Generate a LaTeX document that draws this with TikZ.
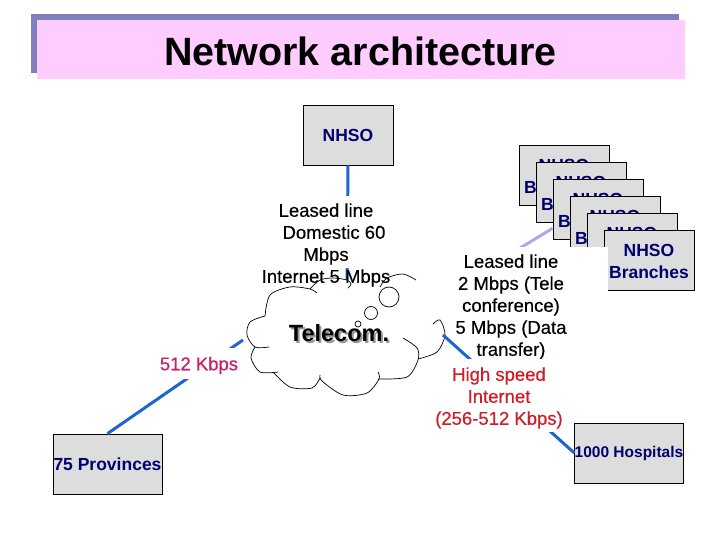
\documentclass[tikz,border=0pt]{standalone}
\usepackage{fontspec}
\setmainfont{Liberation Sans}
\newfontfamily\notefont[FakeBold=0.4]{Liberation Sans}

\definecolor{titlepink}{RGB}{255,204,255}
\definecolor{titleshade}{RGB}{128,128,192}
\definecolor{boxgray}{RGB}{221,221,221}
\definecolor{boxtext}{RGB}{0,0,110}
\definecolor{linkblue}{RGB}{30,100,210}
\definecolor{linkpale}{RGB}{170,170,235}
\definecolor{ratepink}{RGB}{205,30,100}
\definecolor{ratered}{RGB}{205,30,40}

\tikzset{
    site/.style={draw=black, line width=0.8pt, fill=boxgray, text=boxtext, inner sep=0pt,
        minimum width=90pt, minimum height=60pt, align=center,
        font=\fontsize{17.5}{22}\selectfont\bfseries},
    link/.style={draw=linkblue, line width=3pt},
    palelink/.style={draw=linkpale, line width=3pt},
    note/.style={inner sep=0pt, align=center, font=\fontsize{18.5}{22}\notefont\selectfont},
    mask/.style={fill=white, inner sep=0pt},
    outline/.style={draw=black, line width=0.7pt},
}

\begin{document}
\begin{tikzpicture}[x=1pt, y=-1pt]
    \useasboundingbox (0,0) rectangle (720,540);

    \fill[titleshade] (31,14) rectangle (679,73);
    \node[fill=titlepink, minimum width=648pt, minimum height=59pt, inner sep=0pt] (title) at (361,49.5) {};
    \node[inner sep=0pt, font=\fontsize{39.5}{44}\selectfont\bfseries] (titletext) at (360.5,51) {Network architecture};

    \node[site] (nhso) at (348,135) {NHSO};
    \node[site, minimum width=109pt] (provinces) at (107.5,464) {75 Provinces};
    \node[site, minimum width=108pt, font=\fontsize{15.5}{22}\selectfont\bfseries] (hospitals) at (629,453) {1000 Hospitals};
    \foreach \i/\x/\y in {1/564/175, 2/581/192, 3/598/209, 4/615/226, 5/632/243, 6/649/260} {
        \node[site] (branch\i) at (\x,\y) {\rule{0pt}{15pt}NHSO\\Branches};
    }

    \coordinate (cloudtop) at (347,283);
    \coordinate (cloudleft) at (243,340);
    \coordinate (cloudright) at (443,335);
    \coordinate (cloudbranch) at (430,303);

    \draw[link] (nhso.south) -- (cloudtop);
    \draw[link] (provinces.north) -- (cloudleft);
    \draw[palelink] (branch3.203) -- (cloudbranch);

    \node[mask, minimum width=140pt, minimum height=72pt] (leasedmask) at (326,232) {};
    \node[mask, minimum width=194pt, minimum height=112pt] (branchmask) at (511,303) {};

    % cloud
    \fill[white] plot[smooth cycle] coordinates {(265,316) (270,295) (290,287) (310,287) (320,280) (333,278) (347,280)
        (380,285) (387,278) (403,274) (416,280) (435,300) (445,335) (437,352) (418,360) (407,377) (378,380)
        (367,393) (343,395) (320,380) (312,388) (290,387) (273,372) (260,372) (251,358) (255,347) (247,335) (250,322)};
    \draw[outline] plot[smooth] coordinates {(265,316) (270,295) (290,287) (310,289) (317,293)};
    \draw[outline] plot[smooth] coordinates {(310,289) (320,280) (333,278) (347,280) (351,284) (348,288)};
    \draw[outline] plot[smooth] coordinates {(380,287) (387,278) (403,274) (416,280)};
    \draw[outline] plot[smooth] coordinates {(433,324) (440,320) (445,335) (437,352) (418,359)};
    \draw[outline] plot[smooth] coordinates {(403,338) (417,348) (418,360) (407,377) (378,379)};
    \draw[outline] plot[smooth] coordinates {(378,372) (379,379) (367,393) (343,395) (322,381) (320,375)};
    \draw[outline] plot[smooth] coordinates {(320,378) (312,388) (290,387) (273,372)};
    \draw[outline] plot[smooth] coordinates {(278,372) (260,372) (251,358) (255,347)};
    \draw[outline] plot[smooth] coordinates {(269,347) (255,347) (247,335) (250,322) (265,316)};
    \draw[outline] (389,297) circle (10);
    \draw[outline] (371,313) circle (6.5);
    \draw[outline] (358,324) circle (3);

    \node[note] (leased) at (326,234) {Leased line\\\hspace*{16pt}Domestic 60\\Mbps};
    \node[note] (leasedinternet) at (326,278) {Internet 5 Mbps};
    \node[note] (branchlease) at (511,307) {Leased line\\2 Mbps (Tele\\conference)\\5 Mbps (Data\\transfer)};
    \node[inner sep=0pt, text=gray!80, font=\fontsize{23.5}{28}\selectfont\bfseries] (telecomshade) at (341,335) {Telecom.};
    \node[inner sep=0pt, font=\fontsize{23.5}{28}\selectfont\bfseries] (telecom) at (339,333) {Telecom.};

    \draw[link] (cloudright) -- (hospitals.west);
    \node[mask, minimum width=138pt, minimum height=73pt] (highspeedmask) at (499,395.5) {};
    \node[note, text=ratered] (highspeed) at (499,398) {High speed\\Internet\\(256-512 Kbps)};
    \node[mask, minimum width=96pt, minimum height=31pt] (ratemask) at (199,363.5) {};
    \node[note, text=ratepink] (rate) at (199,365.5) {512 Kbps};
\end{tikzpicture}
\end{document}
